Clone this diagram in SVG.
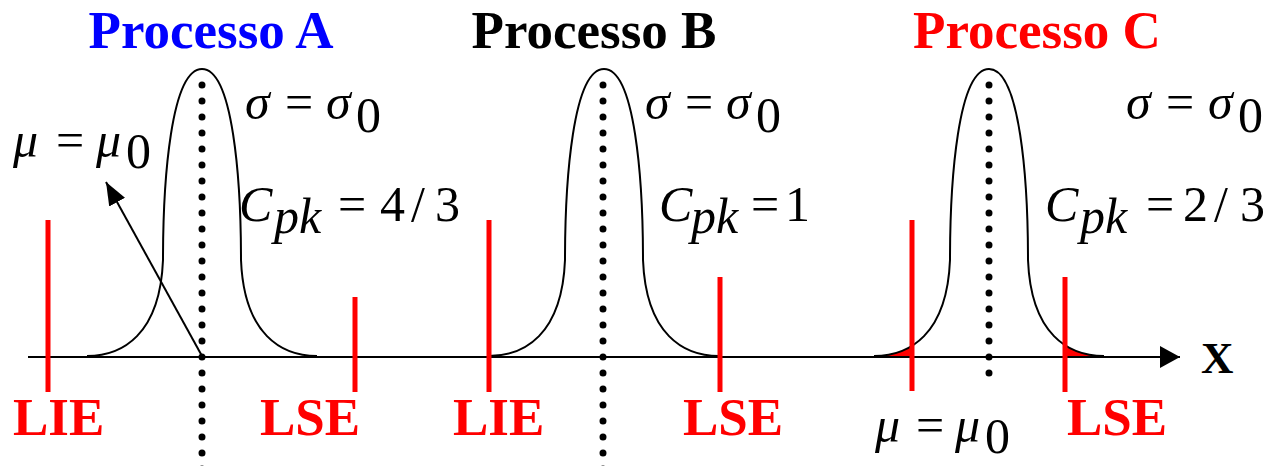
<svg xmlns="http://www.w3.org/2000/svg" width="1276" height="466" viewBox="0 0 1276 466">
<style>
.bell{fill:none;stroke:#000;stroke-width:2}
.dots{stroke:#000;stroke-width:7;stroke-linecap:round;stroke-dasharray:0 16;fill:none}
.lim{stroke:#ff0000;stroke-width:5}
.title{font-family:"Liberation Serif",serif;font-weight:bold;font-size:53px;text-anchor:middle}
.lab{font-family:"Liberation Serif",serif;font-weight:bold;font-size:53px;fill:#ff0000}
.m{font-family:"Liberation Serif",serif;font-size:50px;fill:#000}
.i{font-style:italic}
</style>
<defs>
<path id="bellA" d="M87,356 C122,356 160,335 163,260 C163,180 171,69 202,69 C233,69 241,180 241,260 C244,335 282,356 317,356"/>
<marker id="ah" markerUnits="userSpaceOnUse" markerWidth="26" markerHeight="20" refX="23" refY="9" orient="auto" viewBox="0 0 26 20">
<path d="M0,0 L23,9 L0,18 z" fill="#000"/>
</marker>
<marker id="axh" markerUnits="userSpaceOnUse" markerWidth="22" markerHeight="24" refX="20" refY="11" orient="auto" viewBox="0 0 22 24">
<path d="M0,0 L20,11 L0,22 z" fill="#000"/>
</marker>
<clipPath id="tails">
<rect x="860" y="250" width="52" height="107"/>
<rect x="1065" y="250" width="60" height="107"/>
</clipPath>
</defs>

<g id="axis">
<line x1="28" y1="357" x2="1180" y2="357" stroke="#000" stroke-width="2" marker-end="url(#axh)"/>
<text x="1201" y="373" style="font-family:'Liberation Serif',serif;font-weight:bold;font-size:45px">X</text>
</g>

<g id="processoA">
<text class="title" x="211" y="48" fill="#0000ff">Processo A</text>
<use href="#bellA" class="bell"/>
<line class="dots" x1="202" y1="85" x2="202" y2="470"/>
<line class="lim" x1="48" y1="220" x2="48" y2="392"/>
<line class="lim" x1="355" y1="297" x2="355" y2="392"/>
<text class="lab" x="13" y="435">LIE</text>
<text class="lab" x="260" y="435">LSE</text>
<text class="m i" x="245" y="119">σ</text><text class="m" x="285" y="119">=</text><text class="m i" x="326" y="119">σ</text><text class="m" x="356" y="132">0</text>
<text class="m i" x="13" y="157">μ</text><text class="m" x="56" y="157">=</text><text class="m i" x="96" y="157">μ</text><text class="m" x="126" y="168">0</text>
<text class="m i" x="239" y="221">C</text><text class="m i" x="274" y="233">pk</text><text class="m" x="338" y="221">=</text><text class="m" x="380" y="221">4</text><text class="m" x="411" y="221">/</text><text class="m" x="435" y="221">3</text>
</g>

<g id="processoB">
<text class="title" x="594" y="48" fill="#000">Processo B</text>
<use href="#bellA" class="bell" transform="translate(402,0)"/>
<line class="dots" x1="603" y1="85" x2="603" y2="470"/>
<line class="lim" x1="489" y1="220" x2="489" y2="392"/>
<line class="lim" x1="720" y1="277" x2="720" y2="392"/>
<text class="lab" x="453" y="435">LIE</text>
<text class="lab" x="683" y="435">LSE</text>
<text class="m i" x="645" y="119">σ</text><text class="m" x="685" y="119">=</text><text class="m i" x="726" y="119">σ</text><text class="m" x="756" y="132">0</text>
<text class="m i" x="659" y="221">C</text><text class="m i" x="691" y="233">pk</text><text class="m" x="751" y="221">=</text><text class="m" x="785" y="221">1</text>
</g>

<g id="processoC">
<text class="title" x="1037" y="48" fill="#ff0000">Processo C</text>
<g clip-path="url(#tails)">
<use href="#bellA" transform="translate(787,0)" fill="#ff0000" stroke="none"/>
</g>
<use href="#bellA" class="bell" transform="translate(787,0)"/>
<line class="dots" x1="989" y1="85" x2="989" y2="389"/>
<line class="lim" x1="912" y1="220" x2="912" y2="391"/>
<line class="lim" x1="1065" y1="277" x2="1065" y2="392"/>
<text class="lab" x="1067" y="435">LSE</text>
<text class="m i" x="1126" y="119">σ</text><text class="m" x="1166" y="119">=</text><text class="m i" x="1208" y="119">σ</text><text class="m" x="1238" y="132">0</text>
<text class="m i" x="1045" y="221">C</text><text class="m i" x="1080" y="233">pk</text><text class="m" x="1146" y="221">=</text><text class="m" x="1183" y="221">2</text><text class="m" x="1214" y="221">/</text><text class="m" x="1240" y="221">3</text>
<text class="m i" x="875" y="442">μ</text><text class="m" x="916" y="442">=</text><text class="m i" x="955" y="442">μ</text><text class="m" x="985" y="453">0</text>
</g>

<g id="connectors">
<line x1="202" y1="356" x2="106" y2="182" stroke="#000" stroke-width="2" marker-end="url(#ah)"/>
</g>
</svg>
